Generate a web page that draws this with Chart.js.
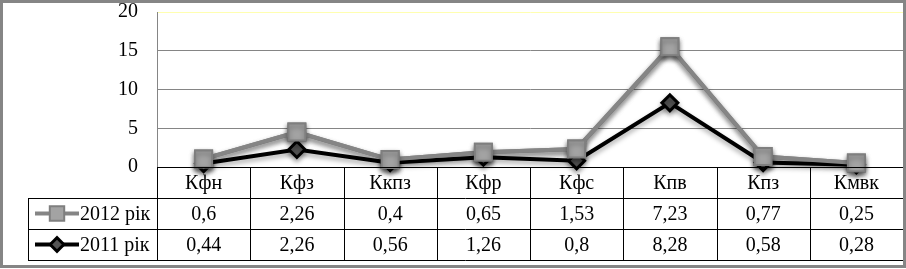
<!DOCTYPE html>
<html>
<head>
<meta charset="utf-8">
<script src="https://cdn.jsdelivr.net/npm/chart.js@4/dist/chart.umd.min.js"></script>
<style>
  html, body { margin: 0; padding: 0; background: #fff; }
  #wrap { width: 906px; height: 269px; position: relative; }
  #fontwarm { position: absolute; left: 40px; top: 40px; font: 20px "Liberation Serif"; color: #000; z-index: 0; }
  #myChart { position: absolute; left: 0; top: 0; z-index: 1; }
</style>
</head>
<body>
<div id="wrap">
  <div id="fontwarm">Кфн Кфз Ккпз 0,44 2011 рік 2012 рік 20 15 10 5 0</div>
  <canvas id="myChart" width="906" height="269"></canvas>
</div>
<script>
var categories = ['Кфн', 'Кфз', 'Ккпз', 'Кфр', 'Кфс', 'Кпв', 'Кпз', 'Кмвк'];
var values2011 = [0.44, 2.26, 0.56, 1.26, 0.8, 8.28, 0.58, 0.28];
var values2012 = [0.6, 2.26, 0.4, 0.65, 1.53, 7.23, 0.77, 0.25];
var seriesNames = ['2011 рік', '2012 рік'];
var yTicks = [0, 5, 10, 15, 20];

var FAMILY = '"Liberation Serif"';
var FONT = '20px "Liberation Serif"';

var fmt = function (v) {
    return String(v).replace('.', ',');
};

var style2012 = {
    pointStyle: 'rect', radius: 12, borderWidth: 2,
    backgroundColor: '#a3a3a3', borderColor: '#7f7f7f', rotation: 0
};
var style2011 = {
    pointStyle: 'rectRot', radius: 8, borderWidth: 3,
    backgroundColor: '#555555', borderColor: '#000000', rotation: 0
};

// big markers would otherwise push the plot area in from the edges
Chart.LineController.prototype.getMaxOverflow = function () { return 0; };

// data table under the plot, like Excel's "data table with legend keys"
var tablePlugin = {
    id: 'dataTable',
    beforeDraw: function (chart) {
        var ctx = chart.ctx;
        ctx.save();
        ctx.fillStyle = '#fff';
        ctx.fillRect(0, 0, chart.width, chart.height);
        ctx.restore();
    },
    beforeDatasetsDraw: function (chart) {
        var ctx = chart.ctx;
        ctx.save();
        ctx.shadowColor = 'rgba(0,0,0,0.35)';
        ctx.shadowBlur = 5;
        ctx.shadowOffsetY = 3;
    },
    afterDatasetsDraw: function (chart) {
        // 2012 is stacked on 2011 but sits on top of it in the picture
        chart.getDatasetMeta(1).controller.draw();
        chart.ctx.restore();
    },
    afterDraw: function (chart) {
        var ctx = chart.ctx;
        var xs = chart.scales.x;
        var area = chart.chartArea;
        var colW = (area.right - area.left) / categories.length;
        var top = area.bottom;
        var rowH = 31;
        var legendLeft = 28;

        ctx.save();
        ctx.strokeStyle = '#000';
        ctx.lineWidth = 1;
        ctx.beginPath();
        ctx.moveTo(area.left, top + 0.5); ctx.lineTo(area.right, top + 0.5);
        for (var r = 1; r <= 3; r++) {
            ctx.moveTo(legendLeft, top + r * rowH + 0.5);
            ctx.lineTo(area.right, top + r * rowH + 0.5);
        }
        for (var c = 0; c <= categories.length; c++) {
            var x = Math.round(area.left + c * colW) + 0.5;
            ctx.moveTo(x, top); ctx.lineTo(x, top + 3 * rowH);
        }
        ctx.moveTo(legendLeft + 0.5, top + rowH); ctx.lineTo(legendLeft + 0.5, top + 3 * rowH);
        ctx.stroke();

        ctx.fillStyle = '#000';
        ctx.font = FONT;
        ctx.textAlign = 'center';
        ctx.textBaseline = 'middle';
        categories.forEach(function (name, i) {
            var cx = xs.getPixelForValue(i);
            ctx.fillText(name, cx, top + rowH / 2 + 1);
            ctx.fillText(fmt(values2012[i]), cx, top + rowH * 1.5 + 1);
            ctx.fillText(fmt(values2011[i]), cx, top + rowH * 2.5 + 1);
        });

        // legend keys
        var rows = [
            { label: seriesNames[1], color: '#858585', width: 4, pt: style2012 },
            { label: seriesNames[0], color: '#000000', width: 4, pt: style2011 }
        ];
        rows.forEach(function (row, k) {
            var y = top + rowH * (1.5 + k);
            ctx.strokeStyle = row.color;
            ctx.lineWidth = row.width;
            ctx.beginPath();
            ctx.moveTo(35, y); ctx.lineTo(79, y);
            ctx.stroke();
            ctx.fillStyle = row.pt.backgroundColor;
            ctx.strokeStyle = row.pt.borderColor;
            ctx.lineWidth = row.pt.borderWidth;
            var pt = Object.assign({}, row.pt, { radius: row.pt.radius * 0.85 });
            Chart.helpers.drawPoint(ctx, pt, 57, y);
            ctx.fillStyle = '#000';
            ctx.textAlign = 'left';
            ctx.fillText(row.label, 80, y + 1);
        });

        ctx.strokeStyle = '#858585';
        ctx.lineWidth = 3;
        ctx.strokeRect(1.5, 1.5, chart.width - 3, chart.height - 4);
        ctx.restore();
    }
};

var makeChart = function () {
    const ctx = document.getElementById('myChart');
    return new Chart(ctx, {
        type: 'line',
        data: {
            labels: categories,
            datasets: [{
                label: seriesNames[0],
                data: values2011,
                clip: false,
                borderColor: '#000000',
                borderWidth: 4,
                pointStyle: style2011.pointStyle,
                pointRadius: style2011.radius,
                pointBorderWidth: style2011.borderWidth,
                pointBackgroundColor: style2011.backgroundColor,
                pointBorderColor: style2011.borderColor,
                tension: 0
            }, {
                label: seriesNames[1],
                data: values2012,
                clip: false,
                borderColor: '#858585',
                borderWidth: 4,
                pointStyle: style2012.pointStyle,
                pointRadius: style2012.radius,
                pointBorderWidth: style2012.borderWidth,
                pointBackgroundColor: style2012.backgroundColor,
                pointBorderColor: style2012.borderColor,
                tension: 0
            }]
        },
        options: {
            responsive: false,
            animation: false,
            events: [],
            layout: {
                padding: { top: 12, right: 3, bottom: 102, left: 0 }
            },
            plugins: {
                legend: { display: false },
                tooltip: { enabled: false }
            },
            scales: {
                x: {
                    display: false,
                    offset: true,
                    stacked: true
                },
                y: {
                    stacked: true,
                    min: 0,
                    max: 20,
                    afterFit: function (scale) { scale.width = 157; },
                    afterBuildTicks: function (scale) {
                        scale.ticks = yTicks.map(function (v) { return { value: v }; });
                    },
                    border: { display: true, color: '#858585', width: 1 },
                    grid: {
                        drawTicks: true,
                        tickLength: 19,
                        tickColor: 'rgba(0,0,0,0)',
                        color: function (c) {
                            return c.tick && c.tick.value === 20 ? '#ffffb0' : '#858585';
                        }
                    },
                    ticks: {
                        padding: 0,
                        color: '#000',
                        font: { family: FAMILY, size: 20 }
                    }
                }
            }
        },
        plugins: [tablePlugin]
    });
};

var start = function () { setTimeout(makeChart, 60); };
if (document.fonts && document.fonts.load) {
    document.fonts.load(FONT, 'Кфн 0,44').then(start, start);
} else {
    start();
}
</script>
</body>
</html>
